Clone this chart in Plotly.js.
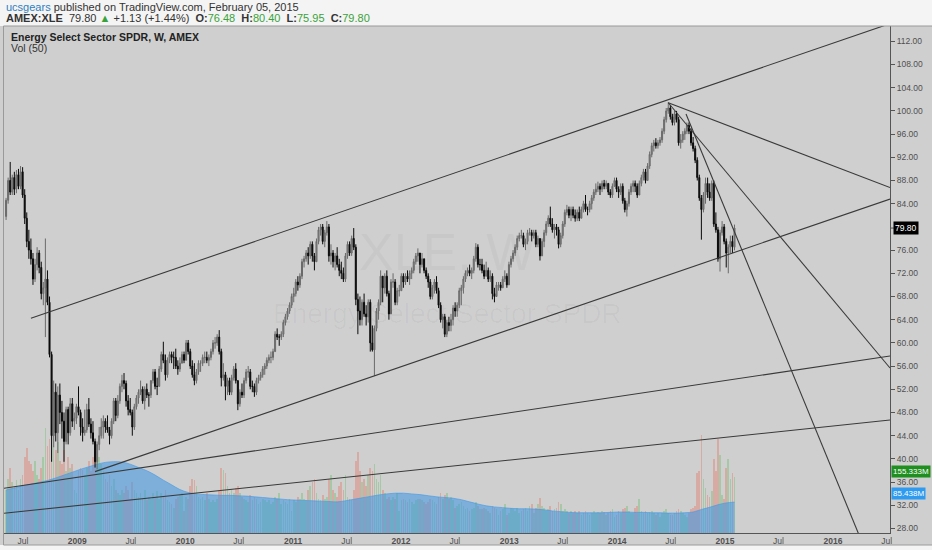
<!DOCTYPE html>
<html><head><meta charset="utf-8">
<script src="https://cdn.plot.ly/plotly-3.0.1.min.js"></script>
<style>html,body{margin:0;padding:0;background:#f4f4f4;overflow:hidden}#chart{width:932px;height:550px}</style>
</head><body><div id="chart"></div>
<script>
// ---- data: weekly bars of XLE starting week of 2008-05-05 ----
const firstWeek = [2008, 4, 5];
const opens = [
81.8,84.6,88.0,86.0, 88.5,86.5,89.0,87.0,89.5, 85.5,81.5,77.5,76.0, 74.5,71.0,73.5,75.5, 73.0,68.5,69.5,71.0,67.0, 58.0,44.0,51.5,44.5, 51.0,48.0,46.5,43.0, 48.5,44.5,49.5,46.5,47.0,
49,48,45.5,44.5, 45,48.5,46,44.5, 43,39.5,42.5,44,45.5, 46.5,45.5,45,44, 46.5,50,47.5,50, 52.5,53.5,53,50,48.5, 48,45.5,49,50.5, 51.5,52,50,52,51, 51,53.5,55,52.5, 52.5,55.5,58,57, 54.5,57,58,57.5,57.5, 56,55.5,56.5,58,
57,60,58.5,56, 54.5,53.5,55,56.5, 56.5,57.5,57.5,57,57.5, 58.5,60,60,61, 58.5,54,54.5,52.5,53.5, 51.5,54,55.5,53.5, 49.5,51.5,51,53.5, 55,55,52.5,52.5,51.5, 53.5,54,54.5,55.5, 56,57,57.5,57.5, 58.5,61.5,61,61,61.5, 63.5,64.5,65.5,66.5,
68,68.5,70.5,70,71.5, 74,74.5,75.5,75, 77,75,74,77.5, 79.5,80,77.5,79, 80,75,75.5,74,75, 73.5,72.5,72,71, 75,77,75.5,78, 76.5,67.5,65.5,64,67, 65,64.5,67,60, 58.8,62.5,65.5,67,71.5, 69.5,71.5,68.5,65, 70.5,70.5,67,69,
69,71.5,70.5,71.5,71, 72,72.5,74,75, 75.5,73.5,74.5,72.5, 71.5,70.5,68,69.5,70.5, 69,66.5,64,64.5, 61.5,63.5,63,64, 66,65.5,66.5,69,69.5, 71,72,72.5,72, 72.5,74.5,76.5,73.5, 73.5,72.5,71.5,72.5,71, 71.5,68.5,68,70, 70,69.5,71,71.5,70,
73.5,74.5,75.5,76.5, 78,78.5,78.5,77, 77.5,79,79,78.5, 79,77,78,75,77.5, 79,80.5,81.5,80.5, 79.5,80,79.5,77, 78.5,80.5,82.5,83,82, 83,82,81.5,82.5, 81.5,83,84,83,83, 84,85,86,86.5, 87,86.5,87.5,87, 87.5,86,85.5,87,88,
86.5,86,87,84.5, 83,84,86,87, 87.5,87,85.5,87.5,88.5, 89.5,88,90.5,92.5, 94,94.5,94,94.5, 95,96.5,98.5,100,100.5, 99,98,99.5,98.5, 94.5,95,96,96.5, 97.5,96.5,94.5,93.5,91.5, 88.5,85,83,85.5, 87.5,86,85,87.5, 80.5,79.5,74.5,79,80,
77.5,75.5,76.5,77.5,76.48];
const highs = [
85.0,88.5,91.2,89.0, 89.5,89.8,90.0,90.5,90.3, 86.5,82.5,79.5,78.0, 75.5,74.5,76.5,76.0, 74.0,70.5,78.0,72.5,68.0, 58.5,53.5,53.0,52.5, 53.0,50.0,48.0,49.0, 49.0,50.5,50.5,48.0,49.5,
52.5,48.5,47,48.5, 49.5,50.5,47,46.5, 43.5,43,45.5,47,47.5, 47,47.5,45.5,47, 50.5,50.5,51,53, 54.5,54.8,53.5,51,50.5, 48.5,49.5,51,52, 53.5,52.5,52.5,53,51.5, 53.5,55.5,55.5,54, 56,58.5,60.2,58, 57.5,58.5,58.5,58.5,59, 57,57.5,58.5,58.5,
60.5,60.5,59,57, 56.5,55.5,57,57, 58,58.5,58.5,58,59, 60.5,61,61.5,62.2, 59,56.5,55,54,54, 54.5,56,56.5,53.5, 52,53,54,55.5, 56,55.5,53.5,53,54, 54.5,55,56,56.5, 57.5,58,58.5,59, 62,62.5,61.5,62,64, 65,66,67,68.5,
69.5,71,71.5,72,74.5, 75,76,76.5,77.5, 77.5,75.5,78,80, 80.5,80.5,79.5,81, 80.5,77,76,75.5,76.5, 74.5,74,73,75.5, 77.5,77.5,78.5,79.8, 77,68.5,68,67.5,68.5, 66.5,67.5,67.5,63, 63,66,67.5,72.5,71.5, 72,72.5,69,71, 72,71,69.5,70,
72,72,72,72.5,72.5, 73,74.5,75.5,76.3, 75.5,75.5,74.5,73, 72,71,70,71,71.5, 69.5,67,65,65, 64,64.5,65,66.5, 67,67,69.5,70,71.5, 72.5,73,73.5,73, 75,77.2,77,74.5, 74.5,73.5,74,73,72.5, 72,69.5,70.5,70.5, 70.5,71.5,72.5,72,74,
75,76,77,78.5, 79,79.5,79,78, 79.5,79.8,79.5,79.5, 79.5,78.5,78,78,79.5, 81,82,83.5,81.5, 80.5,80.5,80,79, 81,83,83.8,83.5,83.5, 83.5,83,83,83.5, 83.5,84.5,85.5,83.5,84.5, 85.5,86.5,87.5,87.8, 87.5,88,88.1,88, 87.5,86.5,87.5,88.5,88.5,
87,87.5,87.5,85, 84.5,86.5,87.5,88, 88,87.5,88,89,90, 90,91,93,94.5, 95,95.3,95,95.5, 97,99,100.5,101.5,101, 99.5,100,100,99, 96,96.5,97,98, 98,97,95.5,94,92, 89,85.5,86,88.5, 88.5,87.5,88,88, 82.5,80,79.5,81,80.5,
78,77,78.5,78.5,80.40];
const lows = [
81.2,84.0,85.5,85.5, 85.5,85.8,86.5,86.5,85.0, 80.5,76.5,74.5,73.5, 70.0,70.5,72.5,72.0, 67.5,66.5,61.0,66.5,57.5, 39.5,42.0,43.0,41.0, 46.0,43.5,39.5,42.5, 42.5,44.0,45.5,45.0,46.0,
47.5,44,43,44, 44.5,45.5,43.5,42.5, 38.5,38.2,41.5,43.5,43.5, 44.5,44.5,42.5,43.5, 46,46.5,47,49.5, 51.5,52,49,47.5,47.5, 44,45,48.5,49.5, 51,49.5,48.5,50.5,49, 50.5,53,52,51, 52.5,55,56.5,53.5, 54,56.5,56.5,55.5,55.5, 54.5,55,56.5,56.5,
57,58,55.5,54, 52.7,53,54.5,55, 56,56.5,56.5,56,57, 58,59,59.5,58, 52.5,53.5,50.1,51,51, 51,53.5,53,48.4, 49,50.5,50.5,53, 54,52,51.5,50.7,51, 53,53.5,54,54.5, 55.5,56.5,56.5,57, 58.5,60.5,59.5,60.5,61, 63,64,65,66,
67,68,69,69.5,71, 73,74,73.5,74.5, 74,72.5,74,77, 78.5,77,76.5,78.5, 74,73.5,73,72.5,73, 71.5,71,70.5,70.5, 74.5,75,75,76, 66.5,61.5,63,63,64.5, 63,63.5,58.5,58.5, 54.3,62,64,66.5,67, 68.5,68,64,65, 69.5,66.5,66.5,68,
69,69.5,70,70.5,70, 71,72,73.5,74, 72,73,72,71, 69.5,67.5,67.5,68.5,68.5, 66,63.5,62.5,61, 61,62,62,63, 64.5,64.5,66,66.5,68.5, 70.5,71.5,71.5,71, 72,74,73,72.5, 72,71,71.5,70.5,70.5, 67.5,67,68,69, 69,69.5,70.5,69.5,70,
73,74,75,76, 77.5,78,76.5,76, 77,78.5,77.5,78, 76.5,76.5,74.2,75,76.5, 78.5,80,80,79, 78,78.5,76.3,76.5, 78,80,82,81.5,81, 81.5,80.9,81,81, 81.5,82.5,82.6,82,82.5, 83,84.5,85.5,86, 85.5,86,86.5,86.5, 85.5,85,85,87,86,
85,85.5,84,82.5, 81.8,83.5,85.5,86, 86,85,85.5,87,88, 87.5,88,90,92, 93,93.5,93.5,94, 94.5,96,98,99.5,98.5, 97.5,97.5,98,94, 93.5,94.5,95,96, 96,94,93,91,88, 84.5,77.8,82.5,84, 85,84.5,84.5,80, 79,74,72.3,78.5,77,
73,72,75.5,75.5,75.95];
const closes = [
84.6,88.0,86.0,88.5, 86.5,89.0,87.0,89.5,85.5, 81.5,77.5,76.0,74.5, 71.0,73.5,75.5,73.0, 68.5,69.5,71.0,67.0,58.0, 44.0,51.5,44.5,51.0, 48.0,46.5,43.0,48.5, 44.5,49.5,46.5,47.0,49.0,
48,45.5,44.5,45, 48.5,46,44.5,43, 39.5,42.5,44,45.5,46.5, 45.5,45,44,46.5, 50,47.5,50,52.5, 53.5,53,50,48.5,48, 45.5,49,50.5,51.5, 52,50,52,51,51, 53.5,55,52.5,52.5, 55.5,58,57,54.5, 57,58,57.5,57.5,56, 55.5,56.5,58,57,
60,58.5,56,54.5, 53.5,55,56.5,56.5, 57.5,57.5,57,57.5,58.5, 60,60,61,58.5, 54,54.5,52.5,53.5,51.5, 54,55.5,53.5,49.5, 51.5,51,53.5,55, 55,52.5,52.5,51.5,53.5, 54,54.5,55.5,56, 57,57.5,57.5,58.5, 61.5,61,61,61.5,63.5, 64.5,65.5,66.5,68,
68.5,70.5,70,71.5,74, 74.5,75.5,75,77, 75,74,77.5,79.5, 80,77.5,79,80, 75,75.5,74,75,73.5, 72.5,72,71,75, 77,75.5,78,76.5, 67.5,65.5,64,67,65, 64.5,67,60,58.8, 62.5,65.5,67,71.5,69.5, 71.5,68.5,65,70.5, 70.5,67,69,69,
71.5,70.5,71.5,71,72, 72.5,74,75,75.5, 73.5,74.5,72.5,71.5, 70.5,68,69.5,70.5,69, 66.5,64,64.5,61.5, 63.5,63,64,66, 65.5,66.5,69,69.5,71, 72,72.5,72,72.5, 74.5,76.5,73.5,73.5, 72.5,71.5,72.5,71,71.5, 68.5,68,70,70, 69.5,71,71.5,70,73.5,
74.5,75.5,76.5,78, 78.5,78.5,77,77.5, 79,79,78.5,79, 77,78,75,77.5,79, 80.5,81.5,80.5,79.5, 80,79.5,77,78.5, 80.5,82.5,83,82,83, 82,81.5,82.5,81.5, 83,84,83,83,84, 85,86,86.5,87, 86.5,87.5,87,87.5, 86,85.5,87,88,86.5,
86,87,84.5,83, 84,86,87,87.5, 87,85.5,87.5,88.5,89.5, 88,90.5,92.5,94, 94.5,94,94.5,95, 96.5,98.5,100,100.5,99, 98,99.5,98.5,94.5, 95,96,96.5,97.5, 96.5,94.5,93.5,91.5,88.5, 85,83,85.5,87.5, 86,85,87.5,80.5, 79.5,74.5,79,80,77.5,
75.5,76.5,77.5,76.6,79.80];
const volumesM = [
120,150,180,140, 130,145,120,150,160, 210,235,200,190, 170,200,160,150, 180,210,290,240,260, 300,260,230,250, 200,190,230,170, 210,180,190,120,110,
170,180,175,160, 180,200,170,210, 230,220,210,190,170, 150,140,160,130, 150,120,110,105, 120,110,130,120,95, 140,120,110,100, 110,95,120,90,100, 95,110,100,115, 95,110,100,120, 90,85,80,70,95, 100,105,110,60,
100,95,130,150, 145,130,100,95, 100,90,110,95,85, 90,85,95,120, 180,175,165,130,110, 120,110,125,130, 110,100,95,90, 85,105,90,100,95, 80,85,95,90, 85,90,80,85, 100,95,110,80,90, 85,80,95,60,
90,85,100,95,110, 95,90,120,130, 140,150,110,95, 90,105,95,100, 150,160,120,110,100, 130,140,120,160, 100,95,90,120, 200,225,170,140,150, 130,160,180,170, 190,150,140,160,120, 110,95,100,90, 100,95,110,60,
90,95,90,85,95, 85,80,90,95, 95,90,85,80, 85,95,90,85,80, 100,110,95,105, 110,95,100,90, 70,75,80,85,75, 65,70,60,65, 70,85,75,65, 65,70,65,60,55, 75,70,65,50, 60,65,80,50,55,
70,65,60,70, 55,60,65,70, 60,75,80,55, 70,80,96,75,70, 60,65,75,60, 65,70,85,80, 60,65,60,55,60, 55,60,55,60, 50,55,60,55,50, 55,60,55,58, 55,60,58,50, 55,60,65,45,50,
60,55,65,70, 75,60,55,55, 70,75,95,60,55, 60,55,58,60, 55,50,55,45, 55,60,65,55,50, 50,55,60,65, 60,55,50,45, 55,65,70,75,165, 170,270,150,125, 105,100,115,205, 170,260,215,105,95,
180,205,150,165,155.333];
// Vol (50) moving average, sampled every 4th week
const volMA50M = [119,124,130,135,140,145,152,160,168,176,183,190,195,197,196,190,181,172,160,146,133,120,112,108,106,105,104,104,103,102,100,98,96,94,92,91,90,89,88,87,86,89,93,97,101,105,108,110,110,108,106,103,100,98,96,92,86,80,75,72,70,68,67,67,66,64,61,59,57,56,56,56,56,57,58,58,57,57,56,56,55,55,56,58,65,71,78,83,85.438];
const tickDates = ['2008-07-01','2009-01-01','2009-07-01','2010-01-01','2010-07-01','2011-01-01','2011-07-01','2012-01-01','2012-07-01','2013-01-01','2013-07-01','2014-01-01','2014-07-01','2015-01-01','2015-07-01','2016-01-01','2016-07-01'];
const tickLabels = ['Jul','<b>2009</b>','Jul','<b>2010</b>','Jul','<b>2011</b>','Jul','<b>2012</b>','Jul','<b>2013</b>','Jul','<b>2014</b>','Jul','<b>2015</b>','Jul','<b>2016</b>','Jul'];
const priceTicks = [28,32,36,40,44,48,52,56,60,64,68,72,76,84,88,92,96,100,104,108,112];
const priceTickLabels = ['28.00','32.00','36.00','40.00','44.00','48.00','52.00','56.00','60.00','64.00','68.00','72.00','76.00','84.00','88.00','92.00','96.00','100.00','104.00','108.00','112.00'];
// drawn trend lines: [start date, end date] and [start price, end price]
const trendDates = [
 ['2008-07-28','2016-07-12'],
 ['2009-03-02','2016-07-12'],
 ['2008-04-28','2016-07-12'],
 ['2008-04-28','2016-07-12'],
 ['2014-06-23','2016-07-12'],
 ['2014-06-23','2016-07-12'],
 ['2014-08-22','2016-05-06']];
const trendPrices = [
 [64.24,115.05],
 [37.8,84.8],
 [34.93,57.74],
 [30.62,46.71],
 [101.41,86.78],
 [101.41,55.67],
 [99.47,22.2]];

// ---- build ----
const dates = opens.map((_, i) => new Date(Date.UTC(firstWeek[0], firstWeek[1], firstWeek[2]) + i * 7 * 864e5).toISOString().slice(0, 10));
const maDates = volMA50M.map((_, k) => dates[Math.min(k * 4, dates.length - 1)]);
const volColors = closes.map((c, i) => c >= opens[i] ? 'rgba(140,195,140,0.6)' : 'rgba(222,140,128,0.55)');

const traces = [
 {type:'bar', x:dates, y:volumesM, xaxis:'x', yaxis:'y', marker:{color:volColors, line:{width:0}}, width:7*864e5*0.8, hoverinfo:'none'},
 {type:'scatter', mode:'lines', x:maDates, y:volMA50M, xaxis:'x', yaxis:'y', fill:'tozeroy', fillcolor:'rgba(60,150,230,0.55)', line:{color:'rgba(70,155,230,0.8)', width:0.8, shape:'spline'}, hoverinfo:'none'},
 {type:'candlestick', x:dates, open:opens, high:highs, low:lows, close:closes, xaxis:'x', yaxis:'y2',
  increasing:{line:{color:'#6a6a6a', width:1}, fillcolor:'#8a8a8a'},
  decreasing:{line:{color:'#0a0a0a', width:1}, fillcolor:'#0a0a0a'}, whiskerwidth:0, hoverinfo:'none'}
];
trendDates.forEach((d, i) => traces.push({type:'scatter', mode:'lines', x:d, y:trendPrices[i], xaxis:'x', yaxis:'y2', line:{color:'#3a3a3a', width:1.1}, hoverinfo:'none'}));

const L = 4, R = 890, T = 26, B = 533;
const px = x => (x - L) / (R - L);
const py = y => (B - y) / (B - T);
const tf = {family:'Liberation Sans, Arial, sans-serif', size:8.5, color:'#505050'};
const hf = 'Liberation Sans Narrow, Liberation Sans, Arial, sans-serif';

const layout = {
 width:932, height:550,
 margin:{l:L, r:932 - R, t:T, b:550 - B, pad:0},
 paper_bgcolor:'#cfcfcf', plot_bgcolor:'#cfcfcf',
 showlegend:false, hovermode:false, dragmode:false, bargap:0,
 xaxis:{type:'date', range:['2008-04-28','2016-07-12'], tickmode:'array', tickvals:tickDates, ticktext:tickLabels,
  showgrid:false, zeroline:false, showline:true, linecolor:'#555', linewidth:1, ticks:'', tickfont:tf,
  rangeslider:{visible:false}, fixedrange:true},
 yaxis:{range:[0,1400], visible:false, fixedrange:true, showgrid:false, zeroline:false},
 yaxis2:{overlaying:'y', side:'right', range:[27.22,114.64], tickmode:'array', tickvals:priceTicks, ticktext:priceTickLabels,
  ticks:'outside', ticklen:4, tickcolor:'#555', showline:true, linecolor:'#555', linewidth:1,
  showgrid:false, zeroline:false, tickfont:tf, fixedrange:true},
 shapes:[
  {type:'rect', xref:'paper', yref:'paper', x0:px(-2), x1:px(934), y0:py(T), y1:py(-2), fillcolor:'#f4f4f4', line:{width:0}, layer:'below'},
  {type:'rect', xref:'paper', yref:'paper', x0:px(-2), x1:px(934), y0:py(552), y1:py(545), fillcolor:'#f4f4f4', line:{width:0}, layer:'below'},
  {type:'line', xref:'paper', yref:'paper', x0:px(3.5), x1:px(934), y0:py(T), y1:py(T), line:{color:'#9a9a9a', width:1}},
  {type:'line', xref:'paper', yref:'paper', x0:px(3.5), x1:px(3.5), y0:py(T), y1:py(545), line:{color:'#9a9a9a', width:1}},
  {type:'line', xref:'paper', yref:'paper', x0:px(3.5), x1:px(934), y0:py(545), y1:py(545), line:{color:'#9a9a9a', width:1}},
  {type:'line', xref:'paper', yref:'y2', x0:1, x1:px(894), y0:79.8, y1:79.8, line:{color:'#555', width:1}}
 ],
 annotations:[
  {xref:'paper', yref:'paper', x:px(4), y:py(7), xanchor:'left', yanchor:'middle', showarrow:false,
   text:'<span style="color:#2f7fc0">ucsgears</span> published on TradingView.com, February 05, 2015', font:{family:hf, size:11, color:'#333'}},
  {xref:'paper', yref:'paper', x:px(4), y:py(18), xanchor:'left', yanchor:'middle', showarrow:false,
   text:'<b>AMEX:XLE</b>  79.80 <span style="color:#3aa23a">▲</span> +1.13 (+1.44%)  <b>O:</b><span style="color:#3aa23a">76.48</span>  <b>H:</b><span style="color:#3aa23a">80.40</span>  <b>L:</b><span style="color:#3aa23a">75.95</span>  <b>C:</b><span style="color:#3aa23a">79.80</span>',
   font:{family:hf, size:11, color:'#333'}},
  {xref:'paper', yref:'paper', x:px(9), y:py(36.7), xanchor:'left', yanchor:'middle', showarrow:false,
   text:'<b>Energy Select Sector SPDR, W, AMEX</b>', font:{family:hf, size:10.5, color:'#222'}},
  {xref:'paper', yref:'paper', x:px(9), y:py(47.5), xanchor:'left', yanchor:'middle', showarrow:false,
   text:'Vol (50)', font:{family:hf, size:10.5, color:'#333'}},
  {xref:'paper', yref:'paper', x:px(447), y:py(252), xanchor:'center', yanchor:'middle', showarrow:false,
   text:'XLE, W', font:{family:'Liberation Sans, Arial, sans-serif', size:52, color:'rgba(0,0,0,0.03)'}},
  {xref:'paper', yref:'paper', x:px(447), y:py(313), xanchor:'center', yanchor:'middle', showarrow:false,
   text:'Energy Select Sector SPDR', font:{family:'Liberation Sans, Arial, sans-serif', size:28, color:'rgba(0,0,0,0.03)'}},
  {xref:'paper', yref:'y2', x:px(893), y:79.8, xanchor:'left', yanchor:'middle', showarrow:false,
   text:'79.80', bgcolor:'#000', borderpad:1, font:{family:'Liberation Sans, Arial, sans-serif', size:8.5, color:'#fff'}},
  {xref:'paper', yref:'paper', x:px(891), y:py(471), xanchor:'left', yanchor:'middle', showarrow:false,
   text:'155.333M', bgcolor:'#1f8f1f', borderpad:1, font:{family:'Liberation Sans, Arial, sans-serif', size:8, color:'#fff'}},
  {xref:'paper', yref:'paper', x:px(891), y:py(493), xanchor:'left', yanchor:'middle', showarrow:false,
   text:'85.438M', bgcolor:'#2e9bf0', borderpad:1, font:{family:'Liberation Sans, Arial, sans-serif', size:8, color:'#fff'}}
 ]
};
Plotly.newPlot('chart', traces, layout, {staticPlot:true, displayModeBar:false});
</script></body></html>
